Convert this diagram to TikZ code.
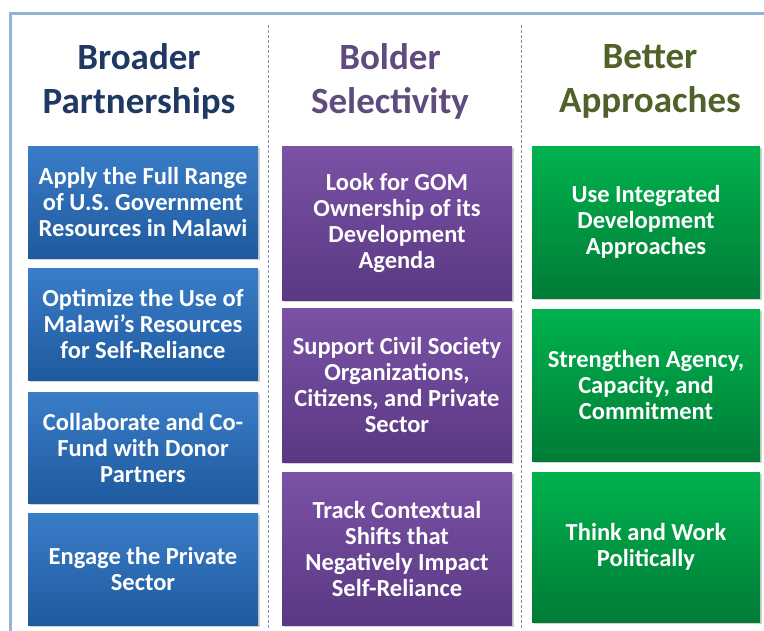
\documentclass[tikz,border=0pt]{standalone}
\usepackage{fontspec}
\setmainfont{Carlito}
\usetikzlibrary{shadows}
\definecolor{frameblue}{HTML}{95B3D7}
\definecolor{sepcol}{HTML}{7F8FA6}
\definecolor{hnavy}{HTML}{1F3864}
\definecolor{hpurple}{HTML}{5F4B7D}
\definecolor{holive}{HTML}{4F6228}
\definecolor{bluetop}{HTML}{3A7DC8}
\definecolor{bluebot}{HTML}{1E5A9E}
\definecolor{purtop}{HTML}{7B52A6}
\definecolor{purbot}{HTML}{5A3883}
\definecolor{grntop}{HTML}{00B24E}
\definecolor{grnbot}{HTML}{007C36}
\tikzset{
  header/.style={align=center,font=\fontsize{37}{44}\selectfont\bfseries,inner sep=0pt},
  card/.style={align=center,text=white,font=\fontsize{24.5}{26}\selectfont\bfseries,
    inner sep=0pt,drop shadow={shadow xshift=1.5pt,shadow yshift=-2pt,opacity=0.35}},
  bluecard/.style={card,top color=bluetop,bottom color=bluebot,minimum width=230pt},
  purcard/.style={card,top color=purtop,bottom color=purbot,minimum width=230pt},
  grncard/.style={card,top color=grntop,bottom color=grnbot,minimum width=228pt},
  sep/.style={draw=sepcol,line width=0.8pt,dash pattern=on 3pt off 2pt}
}
\begin{document}
\begin{tikzpicture}[x=1pt,y=-1pt]
\useasboundingbox (0,0) rectangle (764,630);
\fill[white] (0,0) rectangle (764,630);
\begin{scope}
\clip (0,0) rectangle (764,630);
\draw[frameblue,line width=3pt] (10,13.5) rectangle (800,700);
\end{scope}
\coordinate (s1t) at (268,25);
\coordinate (s1b) at (268,630);
\coordinate (s2t) at (521,25);
\coordinate (s2b) at (521,630);
\draw[sep] (s1t) -- (s1b);
\draw[sep] (s2t) -- (s2b);

\node[header,text=hnavy] (h1) at (139,81) {Broader\\Partnerships};
\node[header,text=hpurple] (h2) at (390,81) {Bolder\\Selectivity};
\node[header,text=holive] (h3) at (650,81) {Better\\Approaches};

\node[bluecard,minimum height=112pt] (b1) at (143,202) {Apply the Full Range\\of U.S. Government\\Resources in Malawi};
\node[bluecard,minimum height=112pt] (b2) at (143,324) {Optimize the Use of\\Malawi’s Resources\\for Self-Reliance};
\node[bluecard,minimum height=111pt] (b3) at (143,447.5) {Collaborate and Co-\\Fund with Donor\\Partners};
\node[bluecard,minimum height=112pt] (b4) at (143,569) {Engage the Private\\Sector};

\node[purcard,minimum height=154pt] (p1) at (397,223) {Look for GOM\\Ownership of its\\Development\\Agenda};
\node[purcard,minimum height=154pt] (p2) at (397,385) {Support Civil Society\\Organizations,\\Citizens, and Private\\Sector};
\node[purcard,minimum height=153pt] (p3) at (397,548.5) {Track Contextual\\Shifts that\\Negatively Impact\\Self-Reliance};

\node[grncard,minimum height=152pt] (g1) at (646,222) {Use Integrated\\Development\\Approaches};
\node[grncard,minimum height=152pt] (g2) at (646,385) {Strengthen Agency,\\Capacity, and\\Commitment};
\node[grncard,minimum height=150pt] (g3) at (646,547) {Think and Work\\Politically};
\end{tikzpicture}
\end{document}
